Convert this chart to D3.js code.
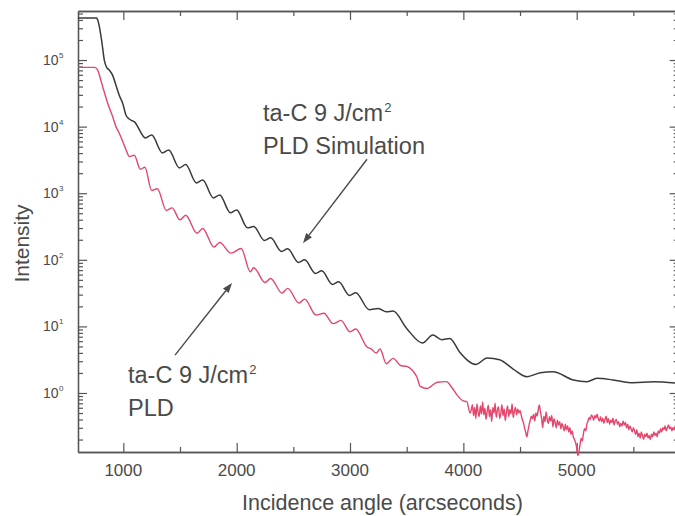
<!DOCTYPE html>
<html>
<head>
<meta charset="utf-8">
<script src="https://cdn.jsdelivr.net/npm/d3@7"></script>
<style>
  html, body { margin: 0; padding: 0; background: #ffffff; }
  svg { display: block; }
  text { font-family: "Liberation Sans", Arial, Helvetica, sans-serif; fill: #4a4a4a; }
</style>
</head>
<body>
<svg id="chart" width="675" height="516"></svg>
<script>
// X-ray reflectivity: measured PLD film vs. simulated curve
// [incidence angle (arcsec), intensity]
const simulation = [
  [600,427000],[765,427000],[774,398000],[794,282000],[812,178000],[832,100000],
  [853,77600],[876,70800],[906,58900],[935,41700],[964,29500],[994,22400],
  [1024,14800],[1055,12900],[1100,11700],[1195,6760],[1250,7500],[1345,4030],
  [1400,4470],[1495,2400],[1550,2690],[1645,1430],[1700,1580],[1795,851],
  [1850,944],[1945,507],[2000,562],[2095,302],[2150,316],[2245,195],[2300,214],
  [2395,133],[2450,146],[2545,91.2],[2600,100],[2695,62.4],[2750,68.4],
  [2845,42.7],[2900,46.8],[2995,29.2],[3050,32.0],[3170,17.8],[3250,18.6],
  [3320,16.6],[3380,17.0],[3500,9.33],[3640,5.62],[3730,7.41],[3810,6.31],
  [3880,6.61],[3970,4.07],[4110,2.69],[4210,3.35],[4320,3.16],[4440,2.29],
  [4560,1.76],[4680,2.02],[4790,2.09],[4970,1.57],[5090,1.48],[5180,1.66],
  [5320,1.57],[5500,1.43],[5680,1.48],[5900,1.40]
];

const pld = [
  [600,77600],[745,77600],[774,70800],[796,53700],[818,39800],[862,22400],
  [906,14100],[935,10000],[964,7940],[994,6030],[1024,4470],[1053,3550],
  [1097,3720],[1150,2290],[1190,2450],[1250,1100],[1300,1170],[1380,550],
  [1430,603],[1500,398],[1550,468],[1650,251],[1700,295],[1800,155],[1850,182],
  [1950,126],[2040,148],[2120,66.1],[2150,75.9],[2250,45.7],[2300,52.5],
  [2400,31.6],[2450,37.2],[2550,22.4],[2600,25.7],[2700,14.8],[2770,15.8],
  [2850,11.0],[2920,12.3],[3000,8.32],[3050,9.12],[3150,4.90],[3190,4.57],
  [3230,3.98],[3265,4.57],[3320,2.75],[3380,3.31],[3450,2.57],[3500,2.51],
  [3560,2.09],[3590,1.74],[3620,1.26],[3680,1.17],[3770,1.45],[3850,1.48],
  [3900,1.20],[3940,0.955],[4000,0.759],[4030,0.741],[4060,0.501],
  // noisy tail near the background level
  [4070,0.56],[4080,0.67],[4090,0.457],[4100,0.607],[4110,0.415],[4120,0.687],
  [4130,0.515],[4140,0.443],[4150,0.638],[4160,0.486],[4170,0.736],[4180,0.471],
  [4190,0.591],[4200,0.401],[4210,0.53],[4220,0.655],[4230,0.443],[4240,0.56],
  [4250,0.374],[4260,0.607],[4270,0.50],[4280,0.703],[4290,0.429],[4300,0.545],
  [4310,0.623],[4320,0.415],[4330,0.486],[4340,0.67],[4350,0.457],[4360,0.576],
  [4370,0.387],[4380,0.515],[4390,0.638],[4400,0.443],[4410,0.56],[4420,0.486],
  [4430,0.687],[4440,0.429],[4450,0.53],[4460,0.607],[4470,0.471],[4480,0.576],
  [4490,0.50],[4500,0.545],
  [4510,0.47],[4520,0.40],[4530,0.36],[4540,0.30],[4550,0.26],[4560,0.22],
  [4570,0.27],[4580,0.33],[4590,0.39],[4600,0.45],
  [4610,0.41],[4620,0.48],[4630,0.38],[4640,0.50],[4650,0.45],[4660,0.55],
  [4670,0.66],[4680,0.52],[4690,0.42],[4700,0.30],
  [4710,0.45],[4720,0.37],[4730,0.52],[4740,0.40],[4750,0.35],[4760,0.44],
  [4770,0.38],[4780,0.46],[4790,0.31],[4800,0.41],
  [4810,0.36],[4820,0.30],[4830,0.39],[4840,0.33],[4850,0.37],[4860,0.29],
  [4870,0.35],[4880,0.31],[4890,0.27],[4900,0.34],
  [4910,0.28],[4920,0.32],[4930,0.26],[4940,0.30],[4950,0.24],[4960,0.27],
  [4970,0.22],[4980,0.20],[4990,0.18],[5000,0.15],
  [5010,0.115],[5020,0.13],[5030,0.17],[5040,0.21],[5050,0.19],[5060,0.25],
  [5070,0.29],[5080,0.27],[5090,0.34],[5100,0.38],
  [5110,0.43],[5120,0.40],[5130,0.47],[5140,0.44],[5150,0.39],[5160,0.46],
  [5170,0.42],[5180,0.48],[5190,0.41],[5200,0.38],
  [5210,0.44],[5220,0.37],[5230,0.42],[5240,0.35],[5250,0.40],[5260,0.45],
  [5270,0.36],[5280,0.41],[5290,0.34],[5300,0.39],
  [5310,0.36],[5320,0.42],[5330,0.33],[5340,0.38],[5350,0.40],[5360,0.34],
  [5370,0.37],[5380,0.31],[5390,0.35],[5400,0.32],
  [5410,0.38],[5420,0.33],[5430,0.36],[5440,0.30],[5450,0.34],[5460,0.28],
  [5470,0.32],[5480,0.29],[5490,0.26],[5500,0.30],
  [5510,0.27],[5520,0.24],[5530,0.28],[5540,0.22],[5550,0.25],[5560,0.21],
  [5570,0.26],[5580,0.23],[5590,0.20],[5600,0.24],
  [5610,0.22],[5620,0.25],[5630,0.21],[5640,0.23],[5650,0.20],[5660,0.24],
  [5670,0.22],[5680,0.26],[5690,0.23],[5700,0.25],
  [5710,0.22],[5720,0.27],[5730,0.25],[5740,0.29],[5750,0.26],[5760,0.30],
  [5770,0.28],[5780,0.32],[5790,0.27],[5800,0.30],
  [5810,0.33],[5820,0.29],[5830,0.31],[5840,0.27],[5850,0.30],[5860,0.28],
  [5870,0.32],[5880,0.29],[5890,0.27],[5900,0.30]
];

const angleDomain = [600, 5900];
const intensityDomain = [0.13, 545000];
const angleMajorTicks = [1000, 2000, 3000, 4000, 5000];
const angleMinorTicks = [1500, 2500, 3500, 4500, 5500];
const decadeExponents = [0, 1, 2, 3, 4, 5];

const annotations = [
  { lines: ["ta-C 9 J/cm", "PLD Simulation"], textX: 263, textY: 121, from: [3150, 3240], to: [2585, 178] },
  { lines: ["ta-C 9 J/cm", "PLD"], textX: 128, textY: 383, from: [1456, 3.7], to: [1959, 45] }
];

const svg = d3.select("#chart");
const plot = { left: 78, right: 678.7, top: 11, bottom: 452 };

const x = d3.scaleLinear().domain(angleDomain).range([plot.left, plot.right]);
const y = d3.scaleLog().domain(intensityDomain).range([plot.bottom, plot.top]);

// log minor tick positions (2..9 within each decade)
const yMajor = decadeExponents.map(e => Math.pow(10, e));
const yMinor = [];
for (let e = -1; e <= 5; e++) {
  for (let k = 2; k <= 9; k++) {
    const v = k * Math.pow(10, e);
    if (v >= intensityDomain[0] && v <= intensityDomain[1]) yMinor.push(v);
  }
}

const axisColor = "#555";
function styleAxis(g) {
  g.selectAll("path.domain").attr("stroke", axisColor).attr("stroke-width", 1.3);
  g.selectAll(".tick line").attr("stroke", axisColor).attr("stroke-width", 1.2);
  g.selectAll(".tick text").remove();
}

function drawAxis(axisFn, scale, values, size, transform) {
  const g = svg.append("g").attr("transform", transform)
    .call(axisFn(scale).tickValues(values).tickSize(size).tickSizeOuter(0).tickFormat(""));
  styleAxis(g);
  return g;
}

// frame with inward ticks on all four sides
drawAxis(d3.axisBottom, x, angleMajorTicks, -9, `translate(0,${plot.bottom})`);
drawAxis(d3.axisBottom, x, angleMinorTicks, -5, `translate(0,${plot.bottom})`);
drawAxis(d3.axisTop, x, angleMajorTicks, -9, `translate(0,${plot.top})`);
drawAxis(d3.axisTop, x, angleMinorTicks, -5, `translate(0,${plot.top})`);
drawAxis(d3.axisLeft, y, yMajor, -9, `translate(${plot.left},0)`);
drawAxis(d3.axisLeft, y, yMinor, -5, `translate(${plot.left},0)`);
drawAxis(d3.axisRight, y, yMajor, -9, `translate(${plot.right},0)`);
drawAxis(d3.axisRight, y, yMinor, -5, `translate(${plot.right},0)`);

// bottom tick labels
svg.append("g").selectAll("text").data(angleMajorTicks).join("text")
  .attr("x", d => x(d)).attr("y", 476)
  .attr("text-anchor", "middle").attr("font-size", 17)
  .text(d => d);

// left tick labels: 10 with superscript exponent
const yl = svg.append("g").selectAll("text").data(decadeExponents).join("text")
  .attr("x", 43).attr("y", d => y(Math.pow(10, d)) + 5)
  .attr("font-size", 14);
yl.append("tspan").text("10");
yl.append("tspan").attr("font-size", 8).attr("dy", -7).attr("dx", 0.5).text(d => d);

// axis titles
svg.append("text")
  .attr("x", (plot.left + 675) / 2 + 6).attr("y", 510)
  .attr("text-anchor", "middle").attr("font-size", 21.5)
  .text("Incidence angle (arcseconds)");

svg.append("text")
  .attr("transform", `translate(28.5,${243.5}) rotate(-90)`)
  .attr("text-anchor", "middle").attr("font-size", 21)
  .text("Intensity");

// curves
const line = d3.line().x(d => x(d[0])).y(d => y(d[1])).curve(d3.curveMonotoneX);

svg.append("path").datum(pld)
  .attr("fill", "none").attr("stroke", "#e3476e").attr("stroke-width", 1.4)
  .attr("stroke-linejoin", "round")
  .attr("d", line);

svg.append("path").datum(simulation)
  .attr("fill", "none").attr("stroke", "#3a3a3a").attr("stroke-width", 1.5)
  .attr("stroke-linejoin", "round")
  .attr("d", line);

// annotations with arrows
const arrowColor = "#4a4a4a";
annotations.forEach(a => {
  const t = svg.append("text").attr("x", a.textX).attr("y", a.textY).attr("font-size", 23.5);
  t.append("tspan").text(a.lines[0]);
  t.append("tspan").attr("font-size", 13).attr("dy", -9).attr("dx", 1).text("2");
  svg.append("text").attr("x", a.textX).attr("y", a.textY + 33).attr("font-size", 23.5)
    .text(a.lines[1]);

  const x0 = x(a.from[0]), y0 = y(a.from[1]);
  const x1 = x(a.to[0]), y1 = y(a.to[1]);
  const ang = Math.atan2(y1 - y0, x1 - x0);
  const headLen = 10, headHalf = 3.6;
  const bx = x1 - headLen * Math.cos(ang), by = y1 - headLen * Math.sin(ang);
  svg.append("line")
    .attr("x1", x0).attr("y1", y0).attr("x2", bx).attr("y2", by)
    .attr("stroke", arrowColor).attr("stroke-width", 1.4);
  const px = -Math.sin(ang), py = Math.cos(ang);
  svg.append("path")
    .attr("d", `M${x1},${y1}L${bx + px * headHalf},${by + py * headHalf}L${bx - px * headHalf},${by - py * headHalf}Z`)
    .attr("fill", arrowColor);
});
</script>
</body>
</html>
